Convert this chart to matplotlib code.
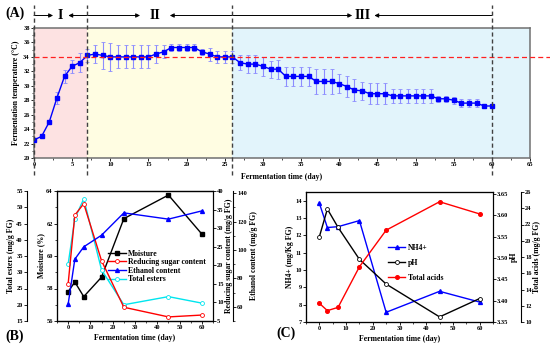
import numpy as np
import matplotlib
matplotlib.use('Agg')
import matplotlib.pyplot as plt
import matplotlib.transforms as mtransforms
from matplotlib.ticker import MultipleLocator

plt.rcParams['font.family'] = ['Liberation Serif', 'DejaVu Serif']
plt.rcParams['font.weight'] = 'bold'
plt.rcParams['axes.labelweight'] = 'bold'

## Panel A data: daily temperature (day 0..60) and its error
days_a = list(range(61))
temp = [22.5, 23.0, 25.0, 28.3, 31.3, 32.7, 33.2, 34.2, 34.4, 34.2,
        34.0, 34.0, 34.0, 34.0, 34.0, 34.0, 34.4, 34.7, 35.3, 35.3,
        35.3, 35.3, 34.7, 34.4, 34.0, 34.0, 34.0, 33.2, 33.0, 33.0,
        32.7, 32.3, 32.3, 31.3, 31.3, 31.3, 31.3, 30.6, 30.6, 30.6,
        30.3, 29.9, 29.4, 29.3, 28.9, 28.9, 28.9, 28.6, 28.6, 28.6,
        28.6, 28.6, 28.6, 28.2, 28.2, 28.0, 27.6, 27.6, 27.6, 27.2,
        27.2]
temp_err = [0.1, 0.1, 0.1, 0.8, 0.9, 0.9, 1.3, 0.9, 1.2, 1.9,
            1.9, 1.6, 1.6, 1.6, 1.6, 1.6, 1.2, 0.9, 0.5, 0.5,
            0.5, 0.5, 0.4, 0.9, 0.8, 0.8, 0.8, 1.0, 1.2, 1.2,
            1.3, 1.2, 1.3, 1.3, 1.3, 1.3, 1.3, 1.75, 1.75, 1.75,
            1.35, 1.5, 1.5, 1.2, 1.45, 1.45, 1.45, 1.0, 1.0, 1.0,
            1.0, 1.0, 1.0, 0.4, 0.4, 0.5, 0.6, 0.6, 0.6, 0.3,
            0.2]
phase_bounds = [0, 7, 26, 60]

## Panel B/C sampling days
days = [0, 3, 7, 15, 25, 45, 60]
moisture = [57.8, 58.4, 57.5, 58.7, 62.3, 63.75, 61.35]
red_sugar = [15.0, 33.5, 36.6, 21.2, 8.7, 6.1, 6.6]
ethanol = [61.8, 93.5, 102.2, 110.4, 126.1, 121.7, 127.5]
esters = [32.5, 46.5, 52.6, 30.7, 20.0, 22.5, 20.5]

nh4 = [13.85, 12.45, 12.5, 12.85, 7.56, 8.77, 8.15]
ph = [3.55, 3.615, 3.572, 3.497, 3.439, 3.362, 3.405]
acids = [12.3, 11.4, 11.8, 16.8, 21.3, 24.8, 23.3]

W, H = 550, 350
fig = plt.figure(figsize=(5.5, 3.5), dpi=100)

def px_axes(l, t, r, b):
    return fig.add_axes([l / W, 1 - b / H, (r - l) / W, (b - t) / H])

tick_fs = 4.6
lab_fs = 5.6

#### (A) temperature
ax_a = px_axes(34, 28, 530, 158)
ax_a.axvspan(0, 7, color='#fde2e2', zorder=0, lw=0)
ax_a.axvspan(7, 26, color='#fffde2', zorder=0, lw=0)
ax_a.axvspan(26, 65, color='#e2f4fb', zorder=0, lw=0)
ax_a.errorbar(days_a, temp, yerr=temp_err, color='#0000ff', lw=1.0,
              marker='s', ms=2.2, ecolor='#8c8cff', elinewidth=0.8,
              capsize=1.4, capthick=0.6, zorder=3)
ax_a.set_xlim(0, 65)
ax_a.set_ylim(20, 38)
ax_a.xaxis.set_major_locator(MultipleLocator(5))
ax_a.xaxis.set_minor_locator(MultipleLocator(2.5))
ax_a.yaxis.set_major_locator(MultipleLocator(2))
ax_a.yaxis.set_minor_locator(MultipleLocator(1))
ax_a.tick_params(labelsize=tick_fs, length=2, width=0.6, pad=1)
ax_a.tick_params(which='minor', length=1.2, width=0.5)
for s in ax_a.spines.values():
    s.set_color('#707070')
    s.set_linewidth(1.1)
ax_a.set_xlabel('Fermentation time (day)', fontsize=lab_fs, labelpad=4)
ax_a.set_ylabel('Fermentation temperature (\u00b0C)', fontsize=lab_fs, labelpad=2)

# dashed phase boundaries running past the axes
tr = mtransforms.blended_transform_factory(ax_a.transData, fig.transFigure)
for xb in phase_bounds:
    ax_a.plot([xb, xb], [1 - 175 / H, 1 - 5 / H], transform=tr, clip_on=False,
              ls=(0, (3, 2)), color='#404040', lw=1.0, zorder=5)
tr2 = mtransforms.blended_transform_factory(fig.transFigure, ax_a.transData)
ax_a.plot([34 / W, 1.0], [34, 34], transform=tr2, clip_on=False,
          ls=(0, (4, 2.5)), color='#ff2020', lw=0.9, zorder=4)

ya = 1 - 15.5 / H
arr = dict(color='black', lw=0.7, mutation_scale=6, shrinkA=0, shrinkB=0)
ax_a.annotate('', xy=(2.5, ya), xytext=(0, ya), xycoords=tr, textcoords=tr,
              arrowprops=dict(arrowstyle='-|>', **arr))
ax_a.annotate('', xy=(4.5, ya), xytext=(13.9, ya), xycoords=tr, textcoords=tr,
              arrowprops=dict(arrowstyle='<|-|>', **arr))
ax_a.annotate('', xy=(17.8, ya), xytext=(41.7, ya), xycoords=tr, textcoords=tr,
              arrowprops=dict(arrowstyle='<|-|>', **arr))
ax_a.annotate('', xy=(44.6, ya), xytext=(60, ya), xycoords=tr, textcoords=tr,
              arrowprops=dict(arrowstyle='-|>', **arr))
for lab, xl in [('I', 3.5), ('II', 15.9), ('III', 43.1)]:
    ax_a.text(xl, ya, lab, transform=tr, fontsize=10, ha='center', va='center')
fig.text(5 / W, 1 - 13 / H, '(A)', fontsize=10, va='center', ha='left')

#### (B) moisture, sugar, ethanol, esters
ax_b = px_axes(57, 191, 213, 321)
ax_es = ax_b.twinx()
ax_rs = ax_b.twinx()
ax_et = ax_b.twinx()
ax_es.spines['left'].set_position(('axes', -30 / 156))
ax_es.spines['left'].set_visible(True)
ax_es.spines['right'].set_visible(False)
ax_es.yaxis.set_ticks_position('left')
ax_es.yaxis.set_label_position('left')
ax_et.spines['right'].set_position(('axes', 1 + 20 / 156))

l1, = ax_b.plot(days, moisture, color='black', marker='s', ms=2.6, lw=1.0,
                label='Moisture')
l2, = ax_rs.plot(days, red_sugar, color='#ff0000', marker='o', ms=2.8, lw=1.0,
                 mfc='white', mew=0.6, label='Reducing sugar content')
l3, = ax_et.plot(days, ethanol, color='#0000ff', marker='^', ms=2.8, lw=1.0,
                 label='Ethanol content')
l4, = ax_es.plot(days, esters, color='#00e5ee', marker='o', ms=2.8, lw=1.0,
                 mfc='white', mew=0.6, label='Total esters')

ax_b.set_xlim(-5, 65)
ax_b.set_ylim(56, 64)
ax_rs.set_ylim(5, 40)
ax_et.set_ylim(50, 141.5)
ax_es.set_ylim(15, 55)
ax_b.xaxis.set_major_locator(MultipleLocator(10))
ax_b.xaxis.set_minor_locator(MultipleLocator(5))
ax_b.yaxis.set_major_locator(MultipleLocator(2))
ax_b.yaxis.set_minor_locator(MultipleLocator(1))
ax_rs.yaxis.set_major_locator(MultipleLocator(5))
ax_et.yaxis.set_major_locator(MultipleLocator(20))
ax_et.yaxis.set_minor_locator(MultipleLocator(10))
ax_es.yaxis.set_major_locator(MultipleLocator(5))
for a in (ax_b, ax_es, ax_rs, ax_et):
    a.tick_params(labelsize=tick_fs, length=2, width=0.6, pad=1)
    a.tick_params(which='minor', length=1.2, width=0.5)
    for s in a.spines.values():
        s.set_linewidth(0.8)
ax_b.set_xlabel('Fermentation time (day)', fontsize=lab_fs, labelpad=3)
ax_b.set_ylabel('Moisture (%)', fontsize=lab_fs, labelpad=1)
ax_es.set_ylabel('Total esters (mg/g FG)', fontsize=lab_fs, labelpad=1)
ax_rs.set_ylabel('Reducing sugar content (mg/g FG)', fontsize=lab_fs, labelpad=1)
ax_et.set_ylabel('Ethanol content (mg/g FG)', fontsize=lab_fs, labelpad=2)
ax_b.legend(handles=[l1, l2, l3, l4], loc='upper left',
            bbox_to_anchor=(0.33, 0.55), frameon=False, fontsize=5.6,
            handlelength=2.2, labelspacing=0.08, handletextpad=0.3,
            borderpad=0, borderaxespad=0)
fig.text(5 / W, 1 - 336 / H, '(B)', fontsize=10, va='center', ha='left')

#### (C) NH4+, pH, total acids
ax_c = px_axes(306, 192, 493, 322)
ax_ph = ax_c.twinx()
ax_ta = ax_c.twinx()
ax_ta.spines['right'].set_position(('axes', 1 + 28 / 187))

m1, = ax_c.plot(days, nh4, color='#0000ff', marker='^', ms=2.8, lw=1.0,
                label='NH4+')
m2, = ax_ph.plot(days, ph, color='black', marker='o', ms=2.8, lw=1.0,
                 mfc='white', mew=0.6, label='pH')
m3, = ax_ta.plot(days, acids, color='#ff0000', marker='o', ms=2.6, lw=1.0,
                 label='Total acids')
ax_c.set_xlim(-5, 65)
ax_c.set_ylim(7, 14.5)
ax_ph.set_ylim(3.35, 3.655)
ax_ta.set_ylim(10, 26)
ax_c.xaxis.set_major_locator(MultipleLocator(10))
ax_c.xaxis.set_minor_locator(MultipleLocator(5))
ax_c.yaxis.set_major_locator(MultipleLocator(1))
ax_ph.yaxis.set_major_locator(MultipleLocator(0.05))
ax_ta.yaxis.set_major_locator(MultipleLocator(2))
for a in (ax_c, ax_ph, ax_ta):
    a.tick_params(labelsize=tick_fs, length=2, width=0.6, pad=1)
    a.tick_params(which='minor', length=1.2, width=0.5)
    for s in a.spines.values():
        s.set_linewidth(0.8)
ax_c.set_xlabel('Fermentation time (day)', fontsize=lab_fs, labelpad=3)
ax_c.set_ylabel('NH4+ (mg/Kg FG)', fontsize=lab_fs, labelpad=1)
ax_ph.set_ylabel('pH', fontsize=lab_fs, labelpad=1)
ax_ta.set_ylabel('Total acids (mg/g FG)', fontsize=lab_fs, labelpad=1)
ax_c.legend(handles=[m1, m2, m3], loc='upper left',
            bbox_to_anchor=(0.44, 0.6), frameon=False, fontsize=5.6,
            handlelength=2.2, labelspacing=0.9, handletextpad=0.3,
            borderpad=0, borderaxespad=0)
fig.text(276 / W, 1 - 333 / H, '(C)', fontsize=10, va='center', ha='left')

fig.savefig('out.png', dpi=100)
